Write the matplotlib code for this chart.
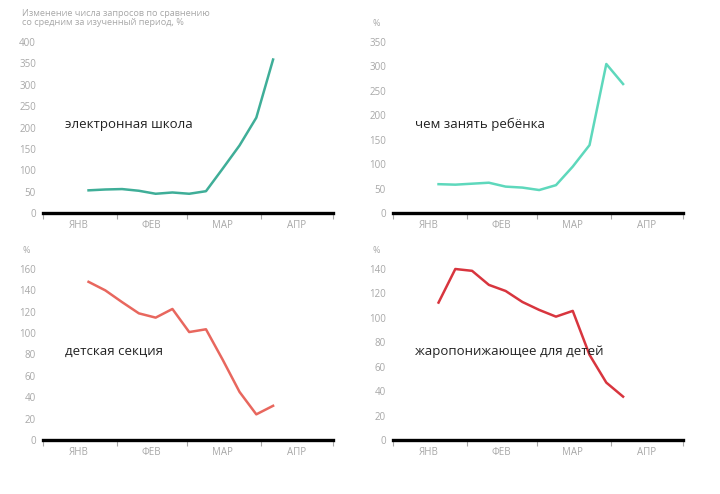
import numpy as np
import matplotlib
matplotlib.use("Agg")
import matplotlib.pyplot as plt
import matplotlib.dates as mdates

plt.rcParams['font.family'] = ['Open Sans', 'DejaVu Sans']

# weekly points, 2020
weeks = ['2020-01-20', '2020-01-27', '2020-02-03', '2020-02-10', '2020-02-17', '2020-02-24',
         '2020-03-02', '2020-03-09', '2020-03-16', '2020-03-23', '2020-03-30', '2020-04-06']

school = [53, 55, 56, 52, 45, 48, 45, 51, 104, 158, 223, 359]
busy_kid = [59, 58, 60, 62, 54, 52, 47, 57, 95, 139, 305, 264]
sport = [148, 140, 129, 118.5, 114.5, 122.6, 101, 103.6, 75, 45, 24, 32]
fever = [112.5, 140, 138.5, 127, 122, 113, 106.5, 101, 105.7, 69.7, 47, 35.5]

titles = ['электронная школа', 'чем занять ребёнка', 'детская секция', 'жаропонижающее для детей']
colors = ['#3fae98', '#5ed8bc', '#e8675e', '#d8353e']
ymax = [400, 350, 160, 140]
ystep = [50, 50, 20, 20]

month_edges = ['2020-01-01', '2020-02-01', '2020-03-01', '2020-04-01', '2020-05-01']
month_mid = ['2020-01-16', '2020-02-15', '2020-03-16', '2020-04-16']
month_names = ['ЯНВ', 'ФЕВ', 'МАР', 'АПР']

W, H = 720, 494
fig = plt.figure(figsize=(W / 100, H / 100), dpi=100)

# axes boxes in pixels: left, top, right, bottom
boxes = [(43, 42, 333, 213), (393, 42, 683, 213), (43, 269, 333, 440), (393, 269, 683, 440)]

x = mdates.datestr2num(weeks)
edges = mdates.datestr2num(month_edges)
mids = mdates.datestr2num(month_mid)
gray = '#a8a8a8'

for i, vals in enumerate([school, busy_kid, sport, fever]):
    l, t, r, b = boxes[i]
    ax = fig.add_axes([l / W, 1 - b / H, (r - l) / W, (b - t) / H])
    ax.plot(x, vals, color=colors[i], lw=1.8, clip_on=False)
    ax.set_xlim(edges[0], edges[-1])
    ax.set_ylim(0, ymax[i])
    for s in ['top', 'right', 'left']:
        ax.spines[s].set_visible(False)
    ax.spines['bottom'].set_linewidth(2.4)
    ax.spines['bottom'].set_color('black')
    ax.set_yticks(np.arange(0, ymax[i] + 1, ystep[i]))
    ax.tick_params(axis='y', length=0, pad=5, labelsize=7, labelcolor=gray)
    ax.set_xticks(edges)
    ax.set_xticklabels([])
    ax.set_xticks(mids, minor=True)
    ax.set_xticklabels(month_names, minor=True)
    ax.tick_params(axis='x', which='major', length=4, width=0.8, color=gray, direction='out')
    ax.tick_params(axis='x', which='minor', length=0, pad=5, labelsize=7, labelcolor=gray)
    ax.text(0.075, 0.52, titles[i], transform=ax.transAxes, fontsize=9.5, color='#222222',
            va='center', ha='left')
    if i > 0:
        ax.text(-0.07, 1.11, '%', transform=ax.transAxes, fontsize=6.5, color=gray,
                ha='left', va='center')

fig.text(22 / W, 1 - 18 / H, 'Изменение числа запросов по сравнению\nсо средним за изученный период, %',
         fontsize=6.6, color=gray, ha='left', va='center', linespacing=1.1)

fig.savefig('out.png', dpi=100, facecolor='white')
